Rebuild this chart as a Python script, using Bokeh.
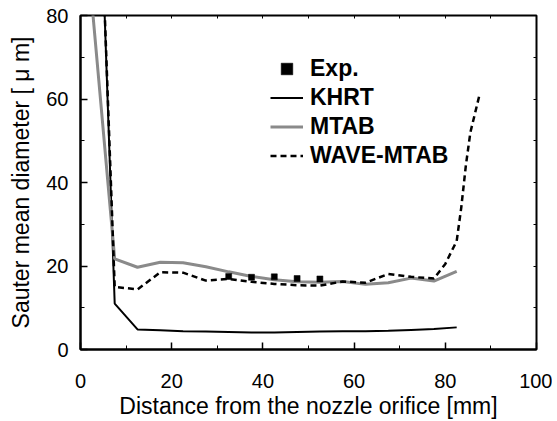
from bokeh.plotting import figure
from bokeh.models import (Range1d, LinearAxis, FixedTicker, Legend, LegendItem,
                          CustomJSTickFormatter)
from bokeh.embed import file_html
from bokeh.resources import INLINE

# data
exp_x = [32.5, 37.5, 42.5, 47.5, 52.5]
exp_y = [17.5, 17.3, 17.4, 17.0, 16.9]

sim_x = [2.5, 7.5, 12.5, 17.5, 22.5, 27.5, 32.5, 37.5, 42.5, 47.5, 52.5,
         57.5, 62.5, 67.5, 72.5, 77.5, 82.5]
khrt = [168, 11.0, 4.8, 4.6, 4.4, 4.3, 4.2, 4.1, 4.1, 4.2, 4.3,
        4.4, 4.4, 4.5, 4.7, 4.9, 5.3]
mtab = [83, 21.7, 19.7, 20.9, 20.8, 19.8, 18.6, 17.5, 16.7, 16.2, 16.1,
        16.3, 15.6, 16.0, 17.1, 16.4, 18.7]

wave_x = [2.5, 7.5, 12.5, 17.5, 22.5, 27.5, 32.5, 37.5, 42.5, 47.5, 52.5,
          57.5, 62.5, 67.5, 72.5, 77.5, 80.0, 82.5, 83.5, 84.5, 85.5, 87.5]
wave = [165, 15.0, 14.4, 18.5, 18.4, 16.5, 16.9, 16.2, 15.7, 15.4, 15.3,
        16.3, 16.0, 18.1, 17.4, 17.0, 20.5, 26.0, 34.0, 44.0, 52.0, 61.0]

x_major = [0, 20, 40, 60, 80, 100]
x_minor = [10, 30, 50, 70, 90]
y_major = [0, 20, 40, 60, 80]
y_minor = [10, 30, 50, 70]

FONT = "Liberation Sans"

p = figure(width=552, height=421, output_backend="svg", toolbar_location=None,
           x_range=Range1d(0, 100), y_range=Range1d(0, 80),
           min_border_left=80, min_border_right=16, min_border_top=15,
           min_border_bottom=67)
p.background_fill_color = "white"
p.border_fill_color = "white"
p.outline_line_color = "black"
p.outline_line_width = 2
p.xgrid.visible = False
p.ygrid.visible = False

for ax in (p.xaxis[0], p.yaxis[0]):
    ax.axis_line_width = 2
    ax.major_tick_in = 7
    ax.major_tick_out = 0
    ax.minor_tick_in = 4
    ax.minor_tick_out = 0
    ax.major_tick_line_width = 1.5
    ax.minor_tick_line_width = 1
    ax.major_label_text_font = FONT
    ax.major_label_text_font_size = "20px"
    ax.major_label_text_color = "black"
    ax.axis_label_text_font = FONT
    ax.axis_label_text_font_size = "23px"
    ax.axis_label_text_font_style = "normal"
    ax.axis_label_text_color = "black"

p.xaxis[0].ticker = FixedTicker(ticks=x_major, minor_ticks=x_minor)
p.yaxis[0].ticker = FixedTicker(ticks=y_major, minor_ticks=y_minor)
p.xaxis[0].axis_label = "Distance from the nozzle orifice [mm]"
p.yaxis[0].axis_label = "Sauter mean diameter [ \u03bc m]"
p.xaxis[0].major_label_standoff = 24
p.xaxis[0].axis_label_standoff = 2
p.yaxis[0].major_label_standoff = 12
p.yaxis[0].axis_label_standoff = 9

# right and top axes: small inward ticks, no labels
for loc, ticks in (("right", y_major + y_minor), ("above", x_major + x_minor)):
    ax = LinearAxis(ticker=FixedTicker(ticks=sorted(ticks)),
                    formatter=CustomJSTickFormatter(code="return ''"))
    ax.axis_line_color = None
    ax.major_tick_in = 3
    ax.major_tick_out = 0
    ax.minor_tick_line_color = None
    ax.major_label_standoff = 0
    p.add_layout(ax, loc)

r_khrt = p.line(sim_x, khrt, line_color="black", line_width=2)
r_mtab = p.line(sim_x, mtab, line_color="#8a8a8a", line_width=3)
r_wave = p.line(wave_x, wave, line_color="black", line_width=2.5, line_dash="6 4")
r_exp = p.scatter(exp_x, exp_y, marker="square", size=6, fill_color="black",
                  line_color="black", line_width=0.5)

legend = Legend(items=[
    LegendItem(label="Exp.", renderers=[r_exp]),
    LegendItem(label="KHRT", renderers=[r_khrt]),
    LegendItem(label="MTAB", renderers=[r_mtab]),
    LegendItem(label="WAVE-MTAB", renderers=[r_wave]),
], location=(190, 179))
legend.background_fill_alpha = 0
legend.border_line_color = None
legend.padding = 0
legend.margin = 0
legend.spacing = 0
legend.glyph_width = 33
legend.glyph_height = 29
legend.label_height = 29
legend.label_standoff = 7
legend.label_text_font = FONT
legend.label_text_font_size = "23px"
legend.label_text_font_style = "bold"
legend.label_text_color = "black"
p.add_layout(legend, "center")

open("out.html", "w").write(file_html(p, INLINE))
